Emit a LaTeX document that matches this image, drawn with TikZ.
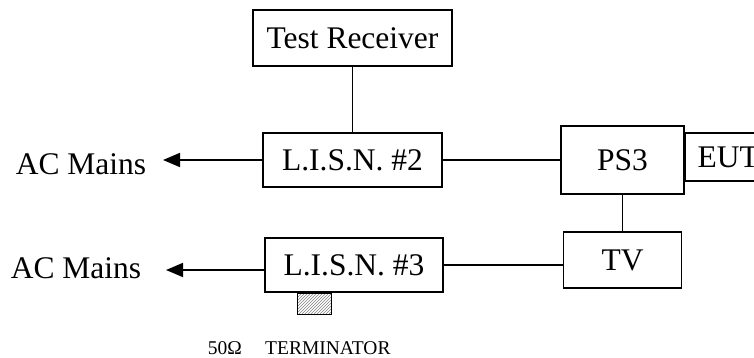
\documentclass[tikz,border=0pt]{standalone}
\usepackage{fontspec}
\setmainfont{Liberation Serif}
\usepackage{tikz}
\usetikzlibrary{arrows.meta,positioning,patterns}

\begin{document}
\begin{tikzpicture}[x=1pt, y=-1pt, >={Triangle[length=17pt,width=14pt]}, line width=1.6pt]
\tikzstyle{box}=[draw=black,line width=1.6pt,text height=21pt,text depth=0pt,font=\fontsize{31.5}{36}\selectfont]
\tikzstyle{mains}=[inner sep=0pt,font=\fontsize{31.5}{36}\selectfont]
\tikzstyle{term}=[draw=black,line width=0.8pt,pattern=north east lines,pattern color=gray,inner sep=0pt]
\tikzstyle{every edge}=[draw,line width=1.6pt]
\useasboundingbox (0,0) rectangle (754,358);

\node[box, minimum width=199pt, minimum height=56pt]   (recv) at (352.5,38)   {Test Receiver};
\node[box, minimum width=179pt, minimum height=54pt]   (lisn2)[below of=recv, node distance=122pt]  {L.I.S.N. \#2};
\node[box, minimum width=123pt, minimum height=68pt]   (ps3)  [right of=lisn2, node distance=270pt] {PS3};
\node[box, minimum width=118pt, minimum height=56pt]   (tv)   [below of=ps3, node distance=100pt]   {TV};
\node[box, minimum width=178pt, minimum height=54pt]   (lisn3) at (354,265)   {L.I.S.N. \#3};
\node[box, anchor=west, minimum height=48pt, text width=76pt, inner xsep=12pt, align=left]
    (eut) at ([yshift=3pt]ps3.east) {EUT};
\node[term, minimum width=34pt, minimum height=21pt, anchor=north]
    (term) at ([xshift=-40pt]lisn3.south) {};

\node[mains, anchor=base east] (mains2) at (147,175) {AC Mains};
\node[mains, anchor=base east] (mains3) at (142,278) {AC Mains};
\node[inner sep=0pt, anchor=base west, font=\fontsize{19.5}{22}\selectfont]
    (termlabel) at (207,354) {50Ω\hspace{1.2em}TERMINATOR};

\coordinate (tip2) at (163,160);
\coordinate (tip3) at (166,270);

\path
(recv)  edge                (lisn2)
(lisn2) edge                (ps3)
        edge[->]            (tip2)
(ps3)   edge                (tv)
(lisn3.east) edge           (lisn3.east -| tv.west)
(tip3 -| lisn3.west) edge[->] (tip3);
\end{tikzpicture}
\end{document}
